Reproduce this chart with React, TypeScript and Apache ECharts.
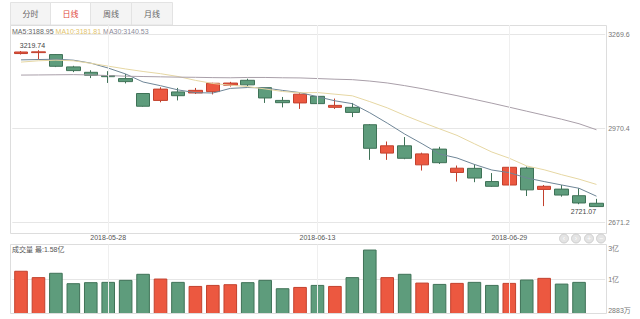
import React, { useEffect, useRef } from 'react';
import * as echarts from 'echarts';

const dates = [
  '2018-05-21', '2018-05-22', '2018-05-23', '2018-05-24', '2018-05-25', '2018-05-28', '2018-05-29',
  '2018-05-30', '2018-05-31', '2018-06-01', '2018-06-04', '2018-06-05', '2018-06-06', '2018-06-07',
  '2018-06-08', '2018-06-11', '2018-06-12', '2018-06-13', '2018-06-14', '2018-06-15', '2018-06-19',
  '2018-06-20', '2018-06-21', '2018-06-22', '2018-06-25', '2018-06-26', '2018-06-27', '2018-06-28',
  '2018-06-29', '2018-07-02', '2018-07-03', '2018-07-04', '2018-07-05', '2018-07-06',
];
const opens = [
  3209, 3212, 3205.8, 3166.6, 3149.4, 3139, 3129.3, 3082, 3060, 3087, 3083.7, 3088, 3108.5, 3124,
  3100.6, 3060, 3052, 3073, 3038, 3038, 2982.7, 2892.5, 2915.7, 2855.2, 2905.2, 2831, 2844, 2802,
  2791, 2845, 2777, 2778, 2757, 2733,
];
const closes = [
  3214, 3214.4, 3168.5, 3154.8, 3139.9, 3135.5, 3119.8, 3041.5, 3096, 3075, 3092, 3114.5, 3115.2, 3109.5,
  3067.8, 3052.8, 3079.8, 3049.8, 3044.2, 3021.9, 2907.8, 2915.7, 2876, 2890, 2862, 2844.5, 2813.2, 2786.9,
  2847.4, 2775.6, 2786.9, 2759.1, 2733.9, 2722.5,
];
const lows = [
  3206, 3190, 3166, 3150, 3131, 3115.6, 3114, 3040, 3054, 3060, 3080.5, 3079, 3104, 3105,
  3052, 3037.8, 3033, 3044, 3033, 3007, 2871, 2871, 2873, 2837, 2858, 2802, 2800, 2785,
  2781, 2756, 2724, 2754, 2730, 2721.07,
];
const highs = [
  3217, 3219.74, 3207, 3170, 3156, 3153, 3144, 3083, 3102, 3099.7, 3099.7, 3116, 3119, 3129,
  3101, 3071, 3083, 3076, 3066, 3052, 2985, 2929.4, 2943.5, 2894, 2912.5, 2853, 2857, 2829,
  2850, 2850, 2791, 2791, 2781, 2747,
];
// volume in 亿
const volumes = [
  2.03, 1.77, 1.947, 1.523, 1.565, 1.577, 1.659, 1.906, 1.713, 1.577, 1.412, 1.453, 1.482, 1.565,
  1.659, 1.318, 1.371, 1.453, 1.412, 1.77, 2.894, 1.77, 1.906, 1.548, 1.494, 1.536, 1.577, 1.453,
  1.536, 1.672, 1.741, 1.507, 1.577, 0.2883,
];
const ma5 = [
  3188.95, 3190, 3191, 3188, 3178.6, 3162.9, 3144.1, 3118.6, 3106.8, 3093.5, 3084.7, 3083.5, 3098.2, 3101.0,
  3099.5, 3091.8, 3084.9, 3071.8, 3058.8, 3049.7, 3020.7, 2987.9, 2953.1, 2922.2, 2889.7, 2877.0, 2856.5, 2838.7,
  2830.3, 2813.5, 2802.0, 2791.2, 2780.6, 2755.5,
];
const ma10 = [
  3181.81, 3186, 3188, 3186, 3178, 3169, 3160, 3152, 3145, 3136.1, 3123.8, 3113.8, 3108.4, 3103.9,
  3096.5, 3088.3, 3084.2, 3085.0, 3079.9, 3074.6, 3056.2, 3036.4, 3012.5, 2990.5, 2969.7, 2948.9, 2922.2, 2895.9,
  2876.2, 2851.6, 2839.5, 2823.9, 2809.7, 2792.9,
];
const ma30 = [
  3140.53, 3141, 3141.5, 3142, 3141, 3139, 3137, 3136, 3135, 3134, 3133.5, 3132.5, 3132, 3133,
  3133, 3132, 3131.5, 3129.5, 3127.5, 3126, 3121.5, 3115.5, 3107, 3097.4, 3086.3, 3075.1, 3063.3, 3051.2,
  3038.5, 3025.7, 3013, 3000.2, 2985.9, 2966.7,
];
const priceTicks = [2671.2, 2970.4, 3269.6];
const volMin = 0.2883;
const volMax = 3.1;
const dateLabelIdx = [5, 17, 28];
const tabs = ['分时', '日线', '周线', '月线'];
const activeTab = 1;
const maNames = ['MA5', 'MA10', 'MA30'];
const legendValues: Record<string, string> = { MA5: '3188.95', MA10: '3181.81', MA30: '3140.53' };
const volTitle = '成交量 最:1.58亿';

const RED = '#ec5840';
const RED_B = '#c2402d';
const GREEN = '#5e9c7c';
const GREEN_B = '#3f7257';
const MA_LINE = ['#6f8697', '#e6d7a3', '#a99fa9'];
const MA_TEXT = ['#666666', '#e2c36b', '#8a8a99'];
const FONT = '"Liberation Sans", "Noto Sans CJK SC", sans-serif';

export default function App() {
  const ref = useRef<HTMLDivElement>(null);
  useEffect(() => {
    if (!ref.current) return;
    const chart = echarts.init(ref.current, undefined, { renderer: 'svg' });

    const tabX = [10, 50, 90, 131];
    const tabW = [40, 40, 41, 41];
    const graphics: any[] = [];
    tabs.forEach((t, i) => {
      graphics.push({
        type: 'rect',
        shape: { x: tabX[i] + 0.5, y: 2.5, width: tabW[i], height: 22.5 },
        style: { fill: i === activeTab ? '#ffffff' : '#f4f4f4', stroke: '#e3e3e3', lineWidth: 1 },
        z: 1,
      });
      graphics.push({
        type: 'text',
        x: tabX[i] + tabW[i] / 2 + 0.5,
        y: 14,
        style: {
          text: t, fill: i === activeTab ? '#e0483a' : '#666', fontSize: 8, fontFamily: FONT,
          align: 'center', verticalAlign: 'middle',
        },
        z: 2,
      });
    });
    graphics.push({
      type: 'rect',
      shape: { x: 10.5, y: 25.5, width: 596, height: 208 },
      style: { fill: 'none', stroke: '#dddddd', lineWidth: 1 },
      z: 3,
    });
    graphics.push({
      type: 'rect',
      shape: { x: 10.5, y: 244.5, width: 596, height: 69 },
      style: { fill: 'none', stroke: '#dddddd', lineWidth: 1 },
      z: 3,
    });
    const rich: Record<string, any> = {};
    maNames.forEach((n, i) => {
      rich['m' + i] = { fill: MA_TEXT[i], fontSize: 7, fontFamily: FONT };
    });
    graphics.push({
      type: 'text', x: 12, y: 31,
      style: {
        text: maNames.map((n, i) => `{m${i}|${n}:${legendValues[n]}}`).join(' '),
        rich, fontSize: 7, fontFamily: FONT, verticalAlign: 'middle',
      },
      z: 4,
    });
    graphics.push({
      type: 'text', x: 12, y: 249.5,
      style: { text: volTitle, fill: '#555', fontSize: 7, fontFamily: FONT, verticalAlign: 'middle' },
      z: 4,
    });
    const btnSyms = ['‹', '›', '+', '−'];
    [564, 576, 589, 601].forEach((cx, i) => {
      graphics.push({
        type: 'circle', shape: { cx, cy: 238.5, r: 4.5 },
        style: { fill: '#e4e4e4', stroke: '#cfcfcf', lineWidth: 1 }, z: 4,
      });
      graphics.push({
        type: 'text', x: cx, y: 238.5,
        style: { text: btnSyms[i], fill: '#fff', fontSize: 7, fontFamily: FONT, align: 'center', verticalAlign: 'middle' },
        z: 5,
      });
    });

    const vLines = dateLabelIdx.map((i) => ({ xAxis: dates[i] }));
    const vLineCfg = {
      silent: true, symbol: ['none', 'none'], label: { show: false },
      lineStyle: { color: '#efefef', type: 'solid', width: 1 }, data: vLines,
    };

    const option: any = {
      animation: false,
      textStyle: { fontFamily: FONT },
      graphic: graphics,
      grid: [
        { left: 12.3, right: 34.8, top: 25, bottom: 85.7 },
        { left: 12.3, right: 34.8, top: 244.5, bottom: 5.5 },
      ],
      xAxis: [
        {
          type: 'category', gridIndex: 0, data: dates, boundaryGap: true,
          axisLine: { show: false }, axisTick: { show: false },
          axisLabel: {
            interval: (i: number) => dateLabelIdx.includes(i), fontSize: 7, color: '#555', margin: 1,
          },
          splitLine: { show: false },
        },
        {
          type: 'category', gridIndex: 1, data: dates, boundaryGap: true,
          axisLine: { show: false }, axisTick: { show: false }, axisLabel: { show: false },
          splitLine: { show: false },
        },
      ],
      yAxis: [
        {
          type: 'value', gridIndex: 0, position: 'right', min: 2637.5, max: 3299.8, scale: true,
          axisLine: { show: false },
          axisTick: { show: false, customValues: priceTicks },
          axisLabel: {
            customValues: priceTicks, fontSize: 7, color: '#777', margin: 3,
            formatter: (v: number) => v.toFixed(1),
          },
          splitLine: { show: true, lineStyle: { color: '#e6e6e6' } },
        },
        {
          type: 'value', gridIndex: 1, position: 'right', min: volMin, max: volMax,
          interval: (volMax - volMin) / 2,
          axisLine: { show: false }, axisTick: { show: false },
          axisLabel: {
            fontSize: 7, color: '#777', margin: 3,
            verticalAlignMinLabel: 'bottom', verticalAlignMaxLabel: 'top',
            formatter: (v: number) =>
              Math.abs(v - volMin) < 1e-4 ? `${Math.round(v * 10000)}万` : `${Math.floor(v + 1e-9)}亿`,
          },
          splitLine: { show: true, lineStyle: { color: '#e6e6e6' } },
        },
      ],
      series: [
        {
          type: 'candlestick', name: 'K', xAxisIndex: 0, yAxisIndex: 0,
          data: dates.map((_, i) => [opens[i], closes[i], lows[i], highs[i]]),
          barWidth: '80%',
          itemStyle: { color: RED, color0: GREEN, borderColor: RED_B, borderColor0: GREEN_B, borderWidth: 1 },
          markLine: vLineCfg,
          markPoint: {
            symbol: 'circle', symbolSize: 1, silent: true,
            itemStyle: { color: 'rgba(0,0,0,0)' },
            label: { show: true, fontSize: 7, color: '#444', fontFamily: FONT, distance: 1 },
            data: [
              {
                type: 'max', valueDim: 'highest',
                label: { position: 'top', offset: [-6, 0], formatter: (p: any) => Number(p.value).toFixed(2) },
              },
              {
                type: 'min', valueDim: 'lowest',
                label: { position: 'bottom', offset: [-13, -1], formatter: (p: any) => Number(p.value).toFixed(2) },
              },
            ],
          },
          z: 3,
        },
        ...maNames.map((n, k) => ({
          type: 'line', name: n, data: [ma5, ma10, ma30][k], xAxisIndex: 0, yAxisIndex: 0, showSymbol: false,
          lineStyle: { color: MA_LINE[k], width: 1 }, itemStyle: { color: MA_LINE[k] }, z: 4,
        })),
        {
          type: 'bar', name: 'VOL', xAxisIndex: 1, yAxisIndex: 1, barWidth: '78%', barMinHeight: 1,
          data: volumes.map((v, i) => ({
            value: v,
            itemStyle: {
              color: closes[i] >= opens[i] ? RED : GREEN,
              borderColor: closes[i] >= opens[i] ? RED_B : GREEN_B,
              borderWidth: 1,
            },
          })),
          markLine: vLineCfg,
        },
      ],
    };
    chart.setOption(option);
    return () => chart.dispose();
  }, []);
  return <div ref={ref} style={{ position: 'fixed', left: 0, top: 0, width: 640, height: 319, background: '#fff' }} />;
}
